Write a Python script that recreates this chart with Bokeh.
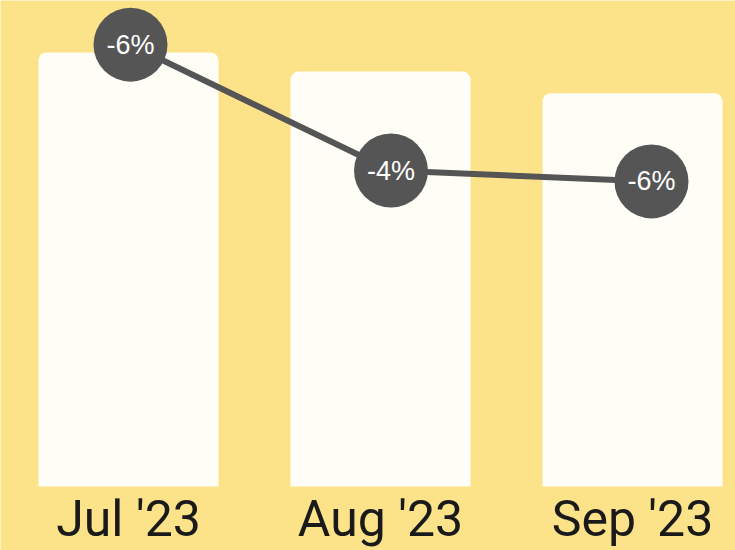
from bokeh.plotting import figure
from bokeh.models import Range1d, ColumnDataSource
from bokeh.core.properties import value
from bokeh.embed import file_html
from bokeh.resources import INLINE

# ---- data ----
categories = ["Jul '23", "Aug '23", "Sep '23"]
bar_values = [100.0, 95.6, 90.6]          # relative bar heights (Jul = 100)
line_values = [101.8, 72.8, 70.3]         # line marker heights on same scale
line_labels = ["-6%", "-4%", "-6%"]

BG = "#FCE38A"
BAR = "#FEFEF7"
DARK = "#555555"

W, H = 735, 550
PX_PER_UNIT = 434 / 100.0      # vertical scale
BASE_PX = 486                  # baseline from top

y0 = -(H - BASE_PX) / PX_PER_UNIT
y1 = BASE_PX / PX_PER_UNIT

p = figure(width=W, height=H, output_backend="svg", toolbar_location=None,
           x_range=Range1d(-128 / 252, (W - 128) / 252),
           y_range=Range1d(y0, y1), min_border=0)
p.extra_x_ranges = {"line": Range1d(-130 / 260.5, (W - 130) / 260.5)}
p.background_fill_color = BG
p.border_fill_color = BG
p.outline_line_color = None
p.xaxis.visible = False
p.yaxis.visible = False
p.xgrid.visible = False
p.ygrid.visible = False

idx = list(range(len(categories)))
src = ColumnDataSource(dict(x=idx, top=bar_values, cat=categories,
                            ly=line_values, lab=line_labels))

p.vbar(x="x", top="top", bottom=0, width=180 / 252, source=src,
       fill_color=BAR, line_color=None, border_radius=(8, 8, 0, 0))

label_y = -(518 - BASE_PX) / PX_PER_UNIT
p.text(x="x", y=label_y, text="cat", source=src,
       text_font=value("Roboto"), text_font_size="50px",
       text_color="#1a1a1a", text_align="center", text_baseline="middle")

p.line(x="x", y="ly", source=src, x_range_name="line",
       line_color=DARK, line_width=6)
p.scatter(x="x", y="ly", source=src, x_range_name="line", size=74,
          fill_color=DARK, line_color=None)
p.text(x="x", y="ly", text="lab", source=src, x_range_name="line",
       text_font=value("Liberation Sans"), text_font_size="27px",
       text_color="white", text_align="center", text_baseline="middle")

open("out.html", "w").write(file_html(p, INLINE))
